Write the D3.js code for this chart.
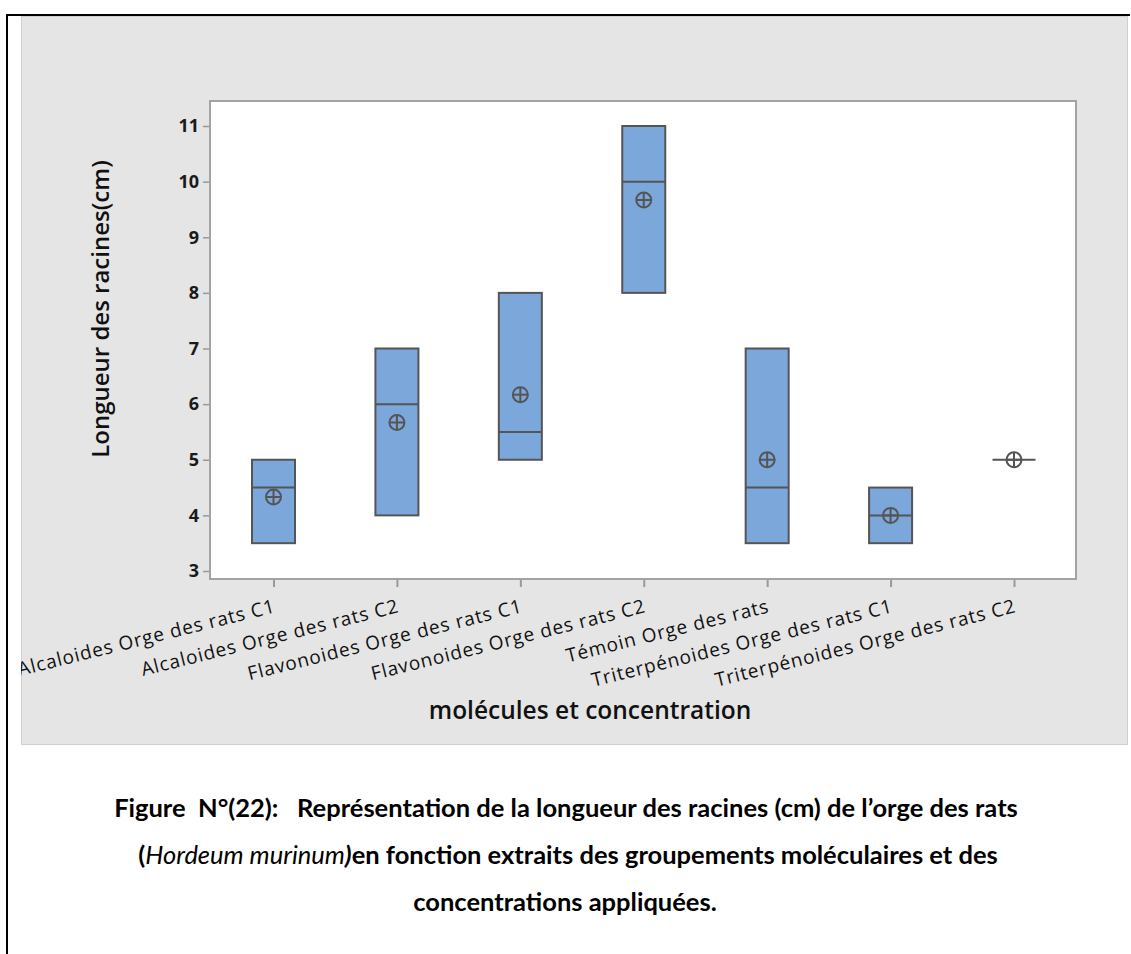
<!DOCTYPE html>
<html>
<head>
<meta charset="utf-8">
<script src="https://cdn.jsdelivr.net/npm/d3@7"></script>
<style>
  body { margin: 0; background: #fff; }
  svg { display: block; }
</style>
</head>
<body>
<svg width="1131" height="954"></svg>
<script>
// groups on the x axis
let categories = ["Alcaloides Orge des rats C1", "Alcaloides Orge des rats C2",
  "Flavonoides Orge des rats C1", "Flavonoides Orge des rats C2",
  "Témoin Orge des rats", "Triterpénoides Orge des rats C1", "Triterpénoides Orge des rats C2"];
let q1 = [3.5, 4, 5, 8, 3.5, 3.5, 5];
let medians = [4.5, 6, 5.5, 10, 4.5, 4, 5];
let q3 = [5, 7, 8, 11, 7, 4.5, 5];
let means = [4.33, 5.67, 6.17, 9.67, 5.0, 4.0, 5.0];
let yTicks = [3, 4, 5, 6, 7, 8, 9, 10, 11];

let data = categories.map(function(c, i) {
  return {name: c, q1: q1[i], med: medians[i], q3: q3[i], mean: means[i]};
});

let svg = d3.select("svg");

// page frame lines (document border)
svg.append("line").attr("x1", 7).attr("x2", 7).attr("y1", 14).attr("y2", 954)
  .attr("stroke", "#000").attr("stroke-width", 2);
svg.append("line").attr("x1", 6).attr("x2", 1130).attr("y1", 15).attr("y2", 15)
  .attr("stroke", "#000").attr("stroke-width", 2);

// grey chart panel
svg.append("defs").append("clipPath").attr("id", "panelClip")
  .append("rect").attr("x", 21).attr("y", 16).attr("width", 1107).attr("height", 729);
svg.append("rect")
  .attr("x", 21.5).attr("y", 16.5).attr("width", 1106).attr("height", 728)
  .attr("fill", "#e5e5e5").attr("stroke", "#cfcfcf").attr("stroke-width", 1);

let plot = {left: 210, right: 1076, top: 101, bottom: 579};

svg.append("rect")
  .attr("x", plot.left).attr("y", plot.top)
  .attr("width", plot.right - plot.left).attr("height", plot.bottom - plot.top)
  .attr("fill", "#fff").attr("stroke", "#a3a3a3").attr("stroke-width", 2);

let x = d3.scalePoint().domain(categories).range([273.5, 1014]);
let y = d3.scaleLinear().domain([3, 11]).range([571, 126]);
let boxW = 43;

// y axis
let yAxis = svg.append("g")
  .attr("transform", "translate(" + (plot.left - 1) + ",0)")
  .call(d3.axisLeft(y).tickValues(yTicks).tickSize(6).tickPadding(4).tickFormat(d3.format("d")));
yAxis.select(".domain").remove();
yAxis.selectAll(".tick line").attr("stroke", "#999").attr("stroke-width", 1.5);
yAxis.selectAll(".tick text")
  .attr("font-family", "'Open Sans', sans-serif").attr("font-weight", 700)
  .attr("font-size", 18).attr("fill", "#1a1a1a");

// x axis
let xAxis = svg.append("g")
  .attr("transform", "translate(0," + (plot.bottom + 1) + ")")
  .call(d3.axisBottom(x).tickSize(7).tickFormat(""));
xAxis.select(".domain").remove();
xAxis.selectAll(".tick line").attr("stroke", "#999").attr("stroke-width", 2);

svg.append("g").attr("clip-path", "url(#panelClip)")
  .selectAll(".xlab")
  .data(categories)
  .enter().append("text")
  .attr("class", "xlab")
  .attr("transform", function(d) { return "translate(" + (x(d) + 3) + ",612) rotate(-14)"; })
  .attr("text-anchor", "end")
  .attr("font-family", "'Open Sans', sans-serif")
  .attr("font-size", 19)
  .attr("letter-spacing", 0.9)
  .attr("fill", "#111")
  .text(function(d) { return d; });

// boxes
let boxes = svg.append("g");
boxes.selectAll(".box")
  .data(data.filter(function(d) { return d.q3 > d.q1; }))
  .enter().append("rect")
  .attr("class", "box")
  .attr("x", function(d) { return x(d.name) - boxW / 2; })
  .attr("y", function(d) { return y(d.q3); })
  .attr("width", boxW)
  .attr("height", function(d) { return y(d.q1) - y(d.q3); })
  .attr("fill", "#7ba7da")
  .attr("stroke", "#555")
  .attr("stroke-width", 2);

boxes.selectAll(".median")
  .data(data)
  .enter().append("line")
  .attr("class", "median")
  .attr("x1", function(d) { return x(d.name) - boxW / 2; })
  .attr("x2", function(d) { return x(d.name) + boxW / 2; })
  .attr("y1", function(d) { return y(d.med); })
  .attr("y2", function(d) { return y(d.med); })
  .attr("stroke", "#555").attr("stroke-width", 2);

// mean symbols (circle with cross)
let meanG = boxes.selectAll(".mean")
  .data(data)
  .enter().append("g")
  .attr("class", "mean")
  .attr("transform", function(d) { return "translate(" + x(d.name) + "," + y(d.mean) + ")"; });
meanG.append("circle").attr("r", 7.5).attr("fill", "none").attr("stroke", "#555").attr("stroke-width", 2);
meanG.append("line").attr("x1", -7.5).attr("x2", 7.5).attr("stroke", "#555").attr("stroke-width", 2);
meanG.append("line").attr("y1", -7.5).attr("y2", 7.5).attr("stroke", "#555").attr("stroke-width", 2);

// axis titles
svg.append("text")
  .attr("transform", "translate(109,309) rotate(-90)")
  .attr("text-anchor", "middle")
  .attr("font-family", "'Open Sans', sans-serif").attr("font-weight", 600)
  .attr("font-size", 24).attr("fill", "#111")
  .text("Longueur des racines(cm)");

svg.append("text")
  .attr("x", 590).attr("y", 719)
  .attr("text-anchor", "middle")
  .attr("font-family", "'Open Sans', sans-serif").attr("font-weight", 600)
  .attr("font-size", 24.5).attr("fill", "#111")
  .text("molécules et concentration");

// caption
let capFont = "Lato, sans-serif";
svg.append("text").attr("x", 566).attr("y", 817).attr("text-anchor", "middle")
  .attr("font-family", capFont).attr("font-weight", 700).attr("font-size", 25.5).attr("fill", "#000")
  .attr("xml:space", "preserve")
  .text("Figure  N°(22):   Représentation de la longueur des racines (cm) de l’orge des rats");

let cap2 = svg.append("text").attr("x", 568).attr("y", 864).attr("text-anchor", "middle")
  .attr("font-family", capFont).attr("font-weight", 700).attr("font-size", 25.5).attr("fill", "#000");
cap2.append("tspan").text("(");
cap2.append("tspan").attr("font-style", "italic").attr("font-weight", 400).text("Hordeum murinum");
cap2.append("tspan").attr("font-style", "italic").text(")");
cap2.append("tspan").text("en fonction extraits des groupements moléculaires et des");

svg.append("text").attr("x", 565).attr("y", 911).attr("text-anchor", "middle")
  .attr("font-family", capFont).attr("font-weight", 700).attr("font-size", 25.5).attr("fill", "#000")
  .text("concentrations appliquées.");
</script>
</body>
</html>
